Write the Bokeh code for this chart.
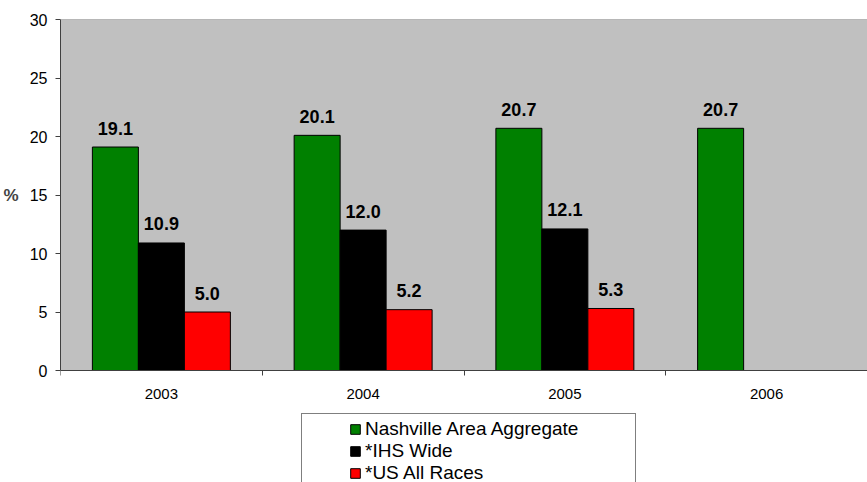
from bokeh.plotting import figure
from bokeh.models import (Range1d, FixedTicker, ColumnDataSource, Legend,
                          LegendItem, Span, LinearAxis, BoxAnnotation)
from bokeh.transform import dodge
from bokeh.core.properties import value
from bokeh.embed import file_html
from bokeh.resources import INLINE

# Data
years = ["2003", "2004", "2005", "2006"]
nashville = [19.1, 20.1, 20.7, 20.7]
ihs_wide = [10.9, 12.0, 12.1, None]
us_all_races = [5.0, 5.2, 5.3, None]
y_ticks = [0, 5, 10, 15, 20, 25, 30]

series_names = ["Nashville Area Aggregate", "*IHS Wide", "*US All Races"]
series_values = [nashville, ihs_wide, us_all_races]
series_colors = ["#008000", "#000000", "#FF0000"]

FONT = "Liberation Sans"
AXIS_COLOR = "#404040"
BAR_W = 0.228

# Layout: the frame runs from 19 px to the bottom edge; the 0..30 band
# occupies the top 351 px, the rest below it hosts the axis labels and legend.
TOP, BAND, HEIGHT = 19, 351, 482
Y_MAX = 30
y_min = -Y_MAX * (HEIGHT - TOP - BAND) / BAND

p = figure(width=867, height=HEIGHT,
           x_range=Range1d(0, len(years)), y_range=Range1d(y_min, Y_MAX),
           output_backend="svg", toolbar_location=None,
           x_axis_type=None, y_axis_type=None,
           min_border_left=60, min_border_right=0,
           min_border_top=TOP, min_border_bottom=0,
           background_fill_color="white", outline_line_color=None,
           border_fill_color="white")

# Grey plotting band between 0 and 30
p.add_layout(BoxAnnotation(bottom=0, top=Y_MAX, fill_color="#C0C0C0", fill_alpha=1.0,
                           line_color=None, level="underlay"))
p.add_layout(Span(location=Y_MAX, dimension="width", line_color="#808080", line_width=1))

# Year groups sit at the centre of unit-wide slots on the x range
centers = [i + 0.5 for i in range(len(years))]

renderers = []
for k, (name, vals, color) in enumerate(zip(series_names, series_values, series_colors)):
    xs = [c for c, v in zip(centers, vals) if v is not None]
    ys = [v for v in vals if v is not None]
    src = ColumnDataSource(data=dict(x=xs, top=ys, label=[f"{v:.1f}" for v in ys]))
    off = (k - 1) * BAR_W
    r = p.vbar(x=dodge("x", off), top="top", bottom=0, width=BAR_W, source=src,
               fill_color=color, line_color="#000000", line_width=1)
    renderers.append(r)
    p.text(x=dodge("x", off), y="top", text="label", source=src,
           text_align="center", text_baseline="alphabetic", y_offset=-19,
           text_font=value(FONT), text_font_style="bold",
           text_font_size="18px", text_color="#000000")

# X axis pinned at y = 0: year labels at slot centres, tick marks between slots
xaxis = LinearAxis(
    fixed_location=0,
    ticker=FixedTicker(ticks=centers, minor_ticks=list(range(len(years) + 1))),
    major_label_overrides={c: y for c, y in zip(centers, years)},
    axis_line_color=AXIS_COLOR, axis_line_width=1,
    major_tick_line_color=None, major_tick_out=5, major_tick_in=0,
    minor_tick_line_color=AXIS_COLOR, minor_tick_out=5, minor_tick_in=0,
    major_label_standoff=13, major_label_text_font=FONT,
    major_label_text_font_size="15px", major_label_text_color="#000000")
p.add_layout(xaxis, "below")

# The "%" title is the first line of a padded block so it sits level with 15
yaxis = LinearAxis(
    bounds=(0, Y_MAX),
    ticker=FixedTicker(ticks=y_ticks),
    axis_label="%" + "\n " * 6, axis_label_orientation="horizontal",
    axis_label_text_font=FONT, axis_label_text_font_style="bold",
    axis_label_text_font_size="17px", axis_label_text_line_height=0.98,
    axis_label_standoff=8,
    axis_line_color=AXIS_COLOR, axis_line_width=1,
    major_tick_line_color=AXIS_COLOR, major_tick_out=5, major_tick_in=0,
    minor_tick_line_color=None,
    major_label_standoff=8, major_label_text_font=FONT,
    major_label_text_font_size="16px", major_label_text_color="#000000")
p.add_layout(yaxis, "left")

legend = Legend(
    items=[LegendItem(label=n, renderers=[r]) for n, r in zip(series_names, renderers)],
    location=(241, -7), orientation="vertical",
    padding=4, spacing=-3, margin=0,
    glyph_width=12, glyph_height=12, label_standoff=4,
    label_width=266, label_height=19,
    label_text_font=FONT, label_text_font_size="19px", label_text_color="#000000",
    title=" ", title_location="left", title_standoff=42, title_text_font_size="1px",
    border_line_color="#000000", border_line_width=1,
    background_fill_color="white", background_fill_alpha=1.0)
p.add_layout(legend, "center")

open("out.html", "w").write(file_html(p, INLINE))
